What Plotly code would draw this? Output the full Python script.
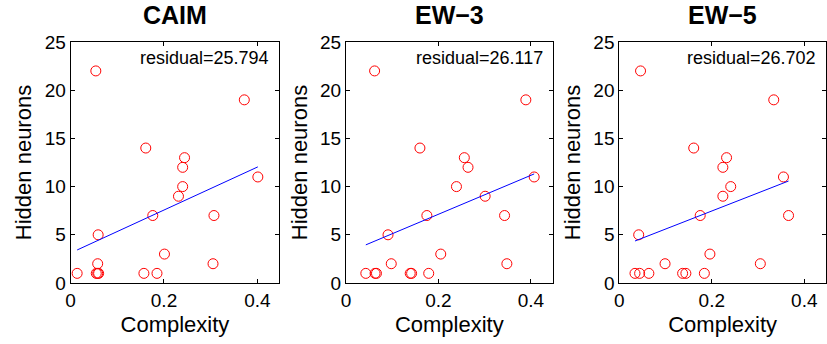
import numpy as np
import plotly.graph_objects as go

titles = ["CAIM", "EW\u22123", "EW\u22125"]
residuals = ["residual=25.794", "residual=26.117", "residual=26.702"]

caim_x = [0.054, 0.372, 0.161, 0.244, 0.240, 0.401, 0.240, 0.231, 0.176, 0.307,
          0.059, 0.201, 0.058, 0.305, 0.014, 0.055, 0.058, 0.060, 0.157, 0.185]
caim_y = [22, 19, 14, 13, 12, 11, 10, 9, 7, 7, 5, 3, 2, 2, 1, 1, 1, 1, 1, 1]

ew3_x = [0.062, 0.389, 0.160, 0.256, 0.264, 0.407, 0.239, 0.301, 0.175, 0.343,
         0.091, 0.205, 0.098, 0.348, 0.043, 0.063, 0.066, 0.139, 0.142, 0.179]
ew3_y = [22, 19, 14, 13, 12, 11, 10, 9, 7, 7, 5, 3, 2, 2, 1, 1, 1, 1, 1, 1]

ew5_x = [0.046, 0.334, 0.161, 0.232, 0.224, 0.355, 0.241, 0.224, 0.175, 0.366,
         0.042, 0.196, 0.099, 0.305, 0.034, 0.044, 0.064, 0.137, 0.144, 0.184]
ew5_y = [22, 19, 14, 13, 12, 11, 10, 9, 7, 7, 5, 3, 2, 2, 1, 1, 1, 1, 1, 1]

datasets = [(caim_x, caim_y), (ew3_x, ew3_y), (ew5_x, ew5_y)]

W, H = 827, 344
panels_px = [(66, 276), (343, 551), (618, 826)]
top_px, bot_px = 42, 283

fig = go.Figure()
font_family = "Liberation Sans, Arial, Helvetica, sans-serif"

for i, ((xs, ys), title, res) in enumerate(zip(datasets, titles, residuals)):
    n = "" if i == 0 else str(i + 1)
    xa, ya = "x" + n, "y" + n
    xs_a = np.array(xs); ys_a = np.array(ys)
    slope, icpt = np.polyfit(xs_a, ys_a, 1)
    xl = np.array([xs_a.min(), xs_a.max()])
    fig.add_trace(go.Scatter(x=xs, y=ys, mode="markers", xaxis=xa, yaxis=ya,
                             marker=dict(symbol="circle-open", size=10, color="red",
                                         line=dict(width=1, color="red")),
                             showlegend=False, hoverinfo="skip"))
    fig.add_trace(go.Scatter(x=xl, y=slope * xl + icpt, mode="lines", xaxis=xa, yaxis=ya,
                             line=dict(color="blue", width=1), showlegend=False,
                             hoverinfo="skip"))
    x0, x1 = panels_px[i]
    common = dict(showline=True, linecolor="black", linewidth=1, mirror="allticks",
                  ticks="inside", ticklen=4, tickcolor="black", showgrid=False,
                  zeroline=False, tickfont=dict(size=19, color="black", family=font_family))
    fig.layout["xaxis" + n] = dict(domain=[x0 / W, x1 / W], range=[0, 0.447],
                                   tickvals=[0, 0.2, 0.4], ticktext=["0", "0.2", "0.4"],
                                   anchor=ya,
                                   title=dict(text="Complexity", standoff=6,
                                              font=dict(size=22, color="black", family=font_family)),
                                   **common)
    fig.layout["yaxis" + n] = dict(domain=[0, 1], range=[0, 25], anchor=xa,
                                   tickvals=[0, 5, 10, 15, 20, 25],
                                   title=dict(text="Hidden neurons", standoff=6,
                                              font=dict(size=22, color="black", family=font_family)),
                                   **common)
    fig.add_annotation(text="<b>%s</b>" % title, xref="paper", yref="paper",
                       x=(x0 + x1) / 2 / W, y=1 + (top_px - 15) / (bot_px - top_px),
                       xanchor="center", yanchor="middle", showarrow=False,
                       font=dict(size=25, color="black", family=font_family))
    fig.add_annotation(text=res, xref=xa + " domain", yref=ya + " domain",
                       x=1 - 8 / (x1 - x0), y=1 - 16 / (bot_px - top_px),
                       xanchor="right", yanchor="middle", showarrow=False,
                       font=dict(size=18, color="black", family=font_family))

fig.update_layout(width=W, height=H, margin=dict(l=0, r=0, t=top_px, b=H - bot_px),
                  paper_bgcolor="white", plot_bgcolor="white",
                  font=dict(family=font_family, color="black"))
fig.write_html("out.html", config={"displayModeBar": False},
               post_script="document.body.style.margin='0';document.body.style.padding='0';document.body.style.overflow='hidden';")
